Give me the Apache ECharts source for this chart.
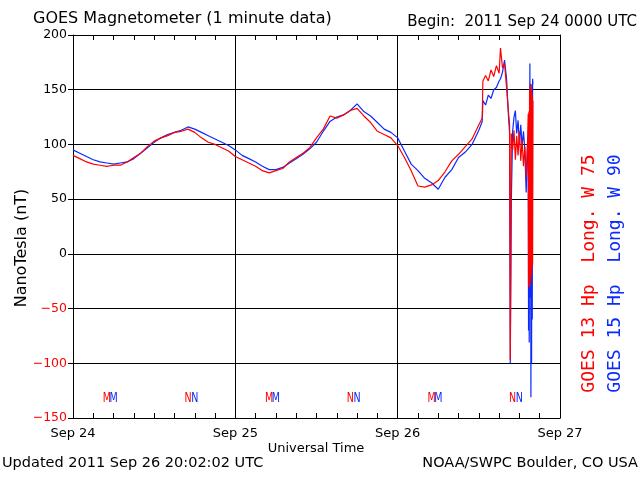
<!DOCTYPE html>
<html>
<head>
<meta charset="utf-8">
<script src="https://cdn.jsdelivr.net/npm/echarts@6/dist/echarts.min.js"></script>
<style>
html,body{margin:0;padding:0;background:#fff;}
#c{width:640px;height:480px;}
</style>
</head>
<body>
<div id="c"></div>
<script>
// ---- data (hours since 2011 Sep 24 00:00 UT) ----
var hours = [0,1,2,3,4,5,6,7,8,9,10,11,12,13,14,15,16,17,18,19,20,21,22,23,24,
  25,26,27,28,29,30,31,32,33,34,35,36,37,38,39,40,41,42,43,44,45,46,47,48,
  49,50,51,52,53,54,55,56,57,58,59,60,
  60.5,60.6,61.0,61.4,61.8,62.2,62.6,63.0,63.2,63.5,63.8,64.1,64.4,64.55,64.65,64.8,
  65.0,65.2,65.4,65.6,65.8,66.0,66.2,66.4,66.6,66.8,67.0,67.2,67.3,67.35,67.4,67.45,67.5,67.55,
  67.6,67.65,67.7,67.75,67.8,67.85,67.9,67.95,68.0];
var goes13 = [90,87,84,82,81,80,81,81,84,88,92,98,103,106,108,111,112,114,111,106,102,100,97,94,89,
  86,83,80,76,74,76,78,84,88,92,97,106,114,126,124,127,131,133,126,120,112,109,106,99,
  88,76,62,61,63,67,75,85,91,98,105,118,
  124,158,163,158,168,162,172,165,188,170,174,152,128,118,-97,110,
  95,113,86,108,90,112,85,104,80,98,70,102,128,-30,130,-28,150,-30,
  156,-25,152,-20,150,-15,145,-10,140];
var goes15 = [95,92,89,86,84,83,82,83,84,87,92,97,102,106,109,111,113,116,114,111,108,105,102,99,95,
  90,87,84,80,77,77,79,83,87,91,96,102,112,121,125,127,131,137,130,126,120,114,111,106,
  94,82,76,69,65,59,70,77,88,93,100,113,
  121,140,136,145,142,150,152,158,160,166,177,160,124,110,-100,47,
  112,125,131,110,122,100,118,98,112,95,56,100,108,-70,105,-81,60,174,
  -40,150,-131,155,-100,140,-60,160,155];
var dayLabels = ['Sep 24','Sep 25','Sep 26','Sep 27'];
var markerLetters = ['M','N','M','N','M','N'];
var goes13MarkerHours = [5,17,29,41,53,65];
var goes15MarkerHours = [6,18,30,42,54,66];
var markerLevel = -132;

function pairs(xs, ys){ var o=[]; for(var i=0;i<xs.length;i++) o.push([xs[i], ys[i]]); return o; }
function markers(hs){ return hs.map(function(h){ return [h, markerLevel]; }); }

var RED = '#ff0000', BLUE = '#0a2aff';
var FONT = 'DejaVu Sans';

function markerSeries(hs, color){
  return {
    type:'custom', xAxisIndex:0, yAxisIndex:0, silent:true, clip:false, z:5,
    data: markers(hs),
    renderItem: function(params, api){
      var p = api.coord([api.value(0), api.value(1)]);
      return {type:'text', x:p[0], y:p[1], scaleX:0.68,
        style:{text: markerLetters[params.dataIndex], fill: color,
          font: '14px "' + FONT + '"', textAlign:'center', textVerticalAlign:'middle'}};
    }
  };
}

var chart = echarts.init(document.getElementById('c'), null, {renderer:'canvas'});
var xCommon = {
  type:'value', min:0, max:72, interval:3,
  axisLine:{show:true, onZero:false, lineStyle:{color:'#000', width:1}},
  axisTick:{show:true, inside:true, length:5, lineStyle:{color:'#000', width:1}},
  splitLine:{show:false}
};
chart.setOption({
  animation:false,
  backgroundColor:'#fff',
  grid:{left:73, right:80, top:35, bottom:62},
  xAxis:[
    Object.assign({}, xCommon, {position:'bottom',
      axisLabel:{show:true, color:'#000', fontFamily:FONT, fontSize:13, margin:9,
        formatter:function(v){ return (v % 24 === 0) ? (dayLabels[v/24] || '') : ''; }}}),
    Object.assign({}, xCommon, {position:'top', axisLabel:{show:false}}),
    {type:'value', min:0, max:72, interval:24, position:'bottom', z:1,
      axisLine:{show:false, onZero:false}, axisTick:{show:false}, axisLabel:{show:false},
      splitLine:{show:true, lineStyle:{color:'#000', width:1}}}
  ],
  yAxis:[
    {type:'value', min:-150, max:200, interval:50, position:'left',
      axisLine:{show:true, onZero:false, lineStyle:{color:'#000', width:1}},
      axisTick:{show:true, inside:false, length:5, lineStyle:{color:'#000'}},
      axisLabel:{show:true, fontFamily:FONT, fontSize:12.5, margin:6,
        color:function(v){ return Number(v) < 0 ? RED : '#000'; },
        formatter:function(v){ return v < 0 ? '\u2212' + Math.abs(v) : String(v); }},
      splitLine:{show:true, lineStyle:{color:'#000', width:1}}},
    {type:'value', min:-150, max:200, interval:50, position:'right',
      axisLine:{show:true, onZero:false, lineStyle:{color:'#000', width:1}},
      axisTick:{show:false}, axisLabel:{show:false}, splitLine:{show:false}}
  ],
  series:[
    {name:'GOES 15', type:'line', xAxisIndex:0, yAxisIndex:0, data:pairs(hours, goes15),
      showSymbol:false, symbol:'none', lineStyle:{color:BLUE, width:1.2}, z:3},
    {name:'GOES 13', type:'line', xAxisIndex:0, yAxisIndex:0, data:pairs(hours, goes13),
      showSymbol:false, symbol:'none', lineStyle:{color:RED, width:1.2}, z:4},
    markerSeries(goes13MarkerHours, RED),
    markerSeries(goes15MarkerHours, BLUE)
  ],
  graphic:[
    {type:'text', x:33, y:19, style:{text:'GOES Magnetometer (1 minute data)', fill:'#000',
      font:'16px "' + FONT + '"', textAlign:'left', textVerticalAlign:'middle'}},
    {type:'text', x:637, y:22, style:{text:'Begin:  2011 Sep 24 0000 UTC', fill:'#000',
      font:'15px "' + FONT + '"', textAlign:'right', textVerticalAlign:'middle'}},
    {type:'text', x:316, y:449, style:{text:'Universal Time', fill:'#000',
      font:'13px "' + FONT + '"', textAlign:'center', textVerticalAlign:'middle'}},
    {type:'text', x:2, y:463, style:{text:'Updated 2011 Sep 26 20:02:02 UTC', fill:'#000',
      font:'14.5px "' + FONT + '"', textAlign:'left', textVerticalAlign:'middle'}},
    {type:'text', x:638, y:463, style:{text:'NOAA/SWPC Boulder, CO USA', fill:'#000',
      font:'14.5px "' + FONT + '"', textAlign:'right', textVerticalAlign:'middle'}},
    {type:'text', x:22, y:248, rotation:Math.PI/2, style:{text:'NanoTesla (nT)', fill:'#000',
      font:'16px "' + FONT + '"', textAlign:'center', textVerticalAlign:'middle'}},
    {type:'text', x:589.5, y:273.5, rotation:Math.PI/2, style:{text:'GOES 13 Hp  Long. W 75', fill:RED,
      font:'18px "DejaVu Sans Mono"', textAlign:'center', textVerticalAlign:'middle'}},
    {type:'text', x:615, y:273.5, rotation:Math.PI/2, style:{text:'GOES 15 Hp  Long. W 90', fill:BLUE,
      font:'18px "DejaVu Sans Mono"', textAlign:'center', textVerticalAlign:'middle'}}
  ]
});
</script>
</body>
</html>
